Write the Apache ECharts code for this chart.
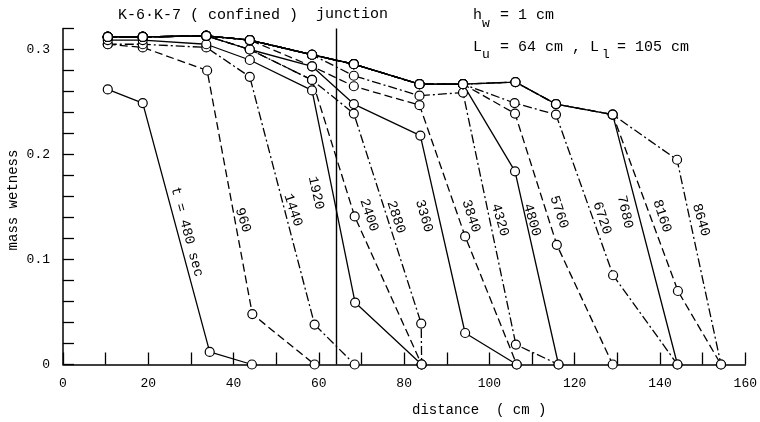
<!DOCTYPE html>
<html>
<head>
<meta charset="utf-8">
<script src="https://cdn.jsdelivr.net/npm/echarts@6/dist/echarts.min.js"></script>
<style>
html, body { margin: 0; padding: 0; background: #fff; }
#chart { width: 760px; height: 422px; }
</style>
</head>
<body>
<div id="chart"></div>
<script>
// wetting profiles, K-6/K-7 confined, [distance cm, mass wetness]
var times = [480, 960, 1440, 1920, 2400, 2880, 3360, 3840, 4320, 4800, 5760, 6720, 7680, 8160, 8640];

var t480 = [[10.5, 0.262], [18.7, 0.249], [34.4, 0.012], [44.3, 0]];
var t960 = [[10.5, 0.305], [18.7, 0.302], [33.8, 0.280], [44.4, 0.048], [59, 0]];
var t1440 = [[10.5, 0.305], [18.7, 0.305], [33.6, 0.302], [43.8, 0.274], [59, 0.038], [68.4, 0]];
var t1920 = [[10.5, 0.309], [18.7, 0.309], [33.6, 0.305], [43.8, 0.290], [58.4, 0.261], [68.5, 0.059], [84.1, 0]];
var t2400 = [[10.5, 0.312], [18.7, 0.312], [33.6, 0.313], [43.8, 0.300], [58.4, 0.271], [68.4, 0.141], [84.1, 0]];
var t2880 = [[10.5, 0.312], [18.7, 0.312], [33.6, 0.313], [43.8, 0.300], [58.4, 0.271], [68.2, 0.239], [84, 0.039], [84.1, 0]];
var t3360 = [[10.5, 0.312], [18.7, 0.312], [33.6, 0.313], [43.8, 0.300], [58.4, 0.284], [68.2, 0.248], [83.8, 0.218], [94.3, 0.030], [106.4, 0]];
var t3840 = [[10.5, 0.312], [18.7, 0.312], [33.6, 0.313], [43.8, 0.309], [58.4, 0.284], [68.2, 0.265], [83.6, 0.247], [94.3, 0.122], [106.4, 0]];
var t4320 = [[10.5, 0.312], [18.7, 0.312], [33.6, 0.313], [43.8, 0.309], [58.4, 0.295], [68.2, 0.275], [83.6, 0.256], [93.8, 0.259], [106.2, 0.019], [116.2, 0]];
var t4800 = [[10.5, 0.312], [18.7, 0.312], [33.6, 0.313], [43.8, 0.309], [58.4, 0.295], [68.2, 0.286], [83.6, 0.267], [93.8, 0.267], [106, 0.184], [116.2, 0]];
var t5760 = [[10.5, 0.312], [18.7, 0.312], [33.6, 0.313], [43.8, 0.309], [58.4, 0.295], [68.2, 0.286], [83.6, 0.267], [93.8, 0.267], [106, 0.239], [115.8, 0.114], [128.9, 0]];
var t6720 = [[10.5, 0.312], [18.7, 0.312], [33.6, 0.313], [43.8, 0.309], [58.4, 0.295], [68.2, 0.286], [83.6, 0.267], [93.8, 0.267], [105.9, 0.249], [115.6, 0.238], [129, 0.085], [144.1, 0]];
var t7680 = [[10.5, 0.312], [18.7, 0.312], [33.6, 0.313], [43.8, 0.309], [58.4, 0.295], [68.2, 0.286], [83.6, 0.267], [93.8, 0.267], [106.1, 0.269], [115.6, 0.248], [128.9, 0.238], [144.1, 0]];
var t8160 = [[10.5, 0.312], [18.7, 0.312], [33.6, 0.313], [43.8, 0.309], [58.4, 0.295], [68.2, 0.286], [83.6, 0.267], [93.8, 0.267], [106.1, 0.269], [115.6, 0.248], [128.9, 0.238], [144.2, 0.070], [154.3, 0]];
var t8640 = [[10.5, 0.312], [18.7, 0.312], [33.6, 0.313], [43.8, 0.309], [58.4, 0.295], [68.2, 0.286], [83.6, 0.267], [93.8, 0.267], [106.1, 0.269], [115.6, 0.248], [128.9, 0.238], [144, 0.195], [154.3, 0]];

var profiles = [t480, t960, t1440, t1920, t2400, t2880, t3360, t3840, t4320, t4800, t5760, t6720, t7680, t8160, t8640];
var junction = 64;

var mono = 'Liberation Mono, DejaVu Sans Mono, monospace';
var dashes = ['solid', [8, 4], [9, 3, 2, 3]]; // solid, dashed, dash-dot in turn

var chart = echarts.init(document.getElementById('chart'));

var series = profiles.map(function (d, i) {
	var s = {
		name: String(times[i]),
		type: 'line',
		data: d,
		symbol: 'circle',
		symbolSize: 9,
		showAllSymbol: true,
		clip: false,
		itemStyle: { color: '#fff', borderColor: '#000', borderWidth: 1.2 },
		lineStyle: { color: '#000', width: 1.3, type: dashes[i % 3] },
		z: 3
	};
	if (i === 0) {
		s.markLine = {
			silent: true,
			symbol: ['none', 'none'],
			label: { show: false },
			lineStyle: { color: '#000', type: 'solid', width: 1.4 },
			data: [{ xAxis: junction }],
			z: 2
		};
	}
	return s;
});

// curve labels: [text, x px, y px, rotation]
var tags = [
	['t = 480 sec', 187, 232, -1.31],
	['960', 243, 220, -1.25],
	['1440', 293, 210, -1.25],
	['1920', 316, 193, -1.36],
	['2400', 369, 215, -1.25],
	['2880', 396, 217, -1.25],
	['3360', 424, 216, -1.28],
	['3840', 471, 216, -1.25],
	['4320', 500, 220, -1.28],
	['4800', 532, 220, -1.28],
	['5760', 559, 212, -1.25],
	['6720', 602, 218, -1.25],
	['7680', 625, 212, -1.36],
	['8160', 662, 216, -1.25],
	['8640', 701, 220, -1.28]
];

var graphics = tags.map(function (t) {
	return {
		type: 'text', x: t[1], y: t[2], rotation: t[3],
		style: { text: t[0], x: 0, y: 0, align: 'center', verticalAlign: 'middle', font: '14px ' + mono, fill: '#000' }
	};
});

function txt(s, x, y, size, extra) {
	var g = { type: 'text', x: x, y: y, style: { text: s, font: size + 'px ' + mono, fill: '#000', verticalAlign: 'middle' } };
	if (extra) for (var k in extra) g[k] = extra[k];
	return g;
}

graphics.push(
	txt('K-6·K-7 ( confined )', 118, 15, 15),
	txt('junction', 316, 14, 15),
	txt('h  = 1 cm', 473, 15, 15),
	txt('w', 482, 24, 13),
	txt('L  = 64 cm , L  = 105 cm', 473, 47, 15),
	txt('u', 482, 55, 13),
	txt('l', 602, 55, 13),
	txt('distance  ( cm )', 412, 410, 14),
	{
		type: 'text', x: 13, y: 200, rotation: Math.PI / 2,
		style: { text: 'mass wetness', x: 0, y: 0, align: 'center', verticalAlign: 'middle', font: '14px ' + mono, fill: '#000' }
	}
);

var option = {
	animation: false,
	backgroundColor: '#fff',
	grid: { left: 63, right: 14, top: 28.5, bottom: 57.5 },
	xAxis: {
		type: 'value',
		min: 0,
		max: 160,
		interval: 10,
		axisLine: { lineStyle: { color: '#000', width: 1.5 } },
		axisTick: { inside: true, length: 12, lineStyle: { color: '#000', width: 1.3 } },
		axisLabel: {
			color: '#000', fontFamily: mono, fontSize: 13, margin: 13,
			formatter: function (v) { return v % 20 === 0 ? String(v) : ''; }
		},
		splitLine: { show: false }
	},
	yAxis: {
		type: 'value',
		min: 0,
		max: 0.32,
		interval: 0.02,
		axisLine: { show: true, lineStyle: { color: '#000', width: 1.5 } },
		axisTick: { show: true, inside: true, length: 11, lineStyle: { color: '#000', width: 1.3 } },
		axisLabel: {
			color: '#000', fontFamily: mono, fontSize: 13, margin: 13,
			formatter: function (v) {
				var r = Math.round(v * 10);
				if (Math.abs(v * 10 - r) > 1e-6) return '';
				return r === 0 ? '0' : (r / 10).toFixed(1);
			}
		},
		splitLine: { show: false }
	},
	series: series,
	graphic: graphics
};
chart.setOption(option);
</script>
</body>
</html>
